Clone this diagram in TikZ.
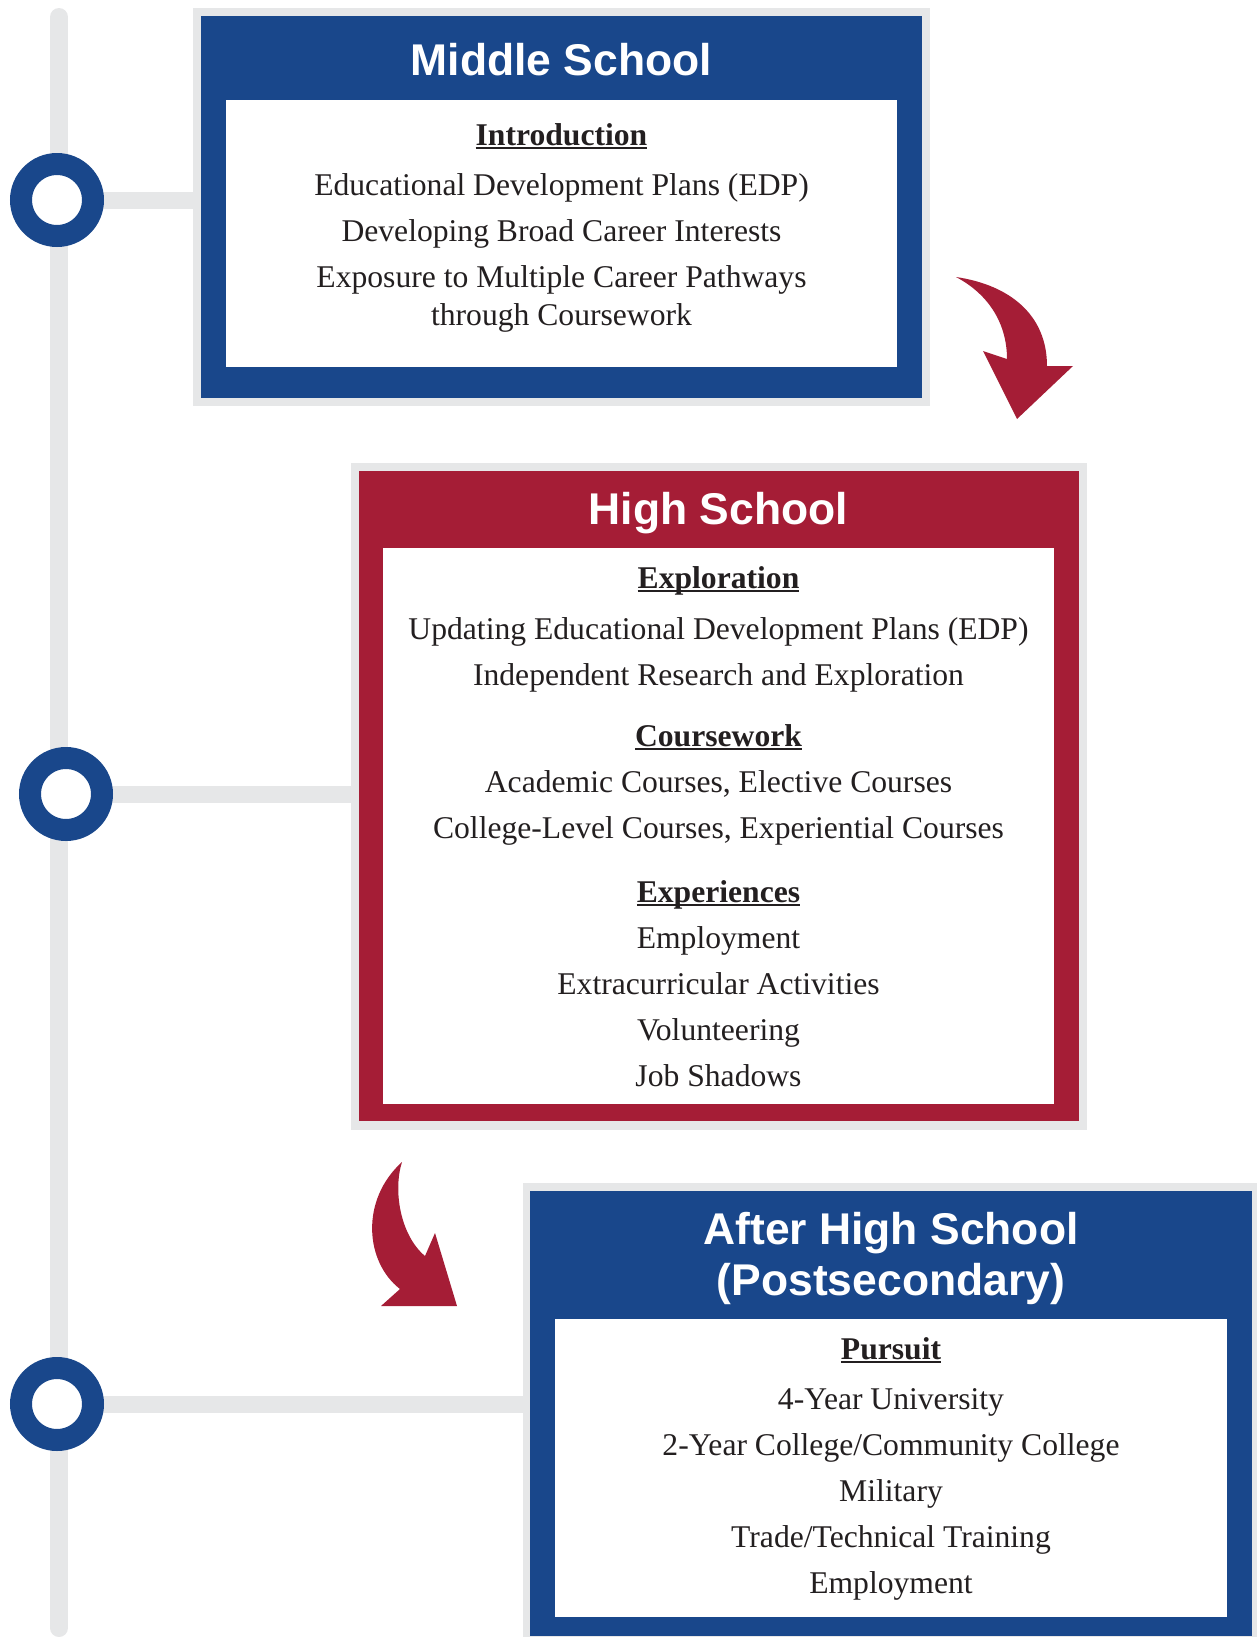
\documentclass[tikz,border=0pt]{standalone}
\usepackage{fontspec}
\setmainfont{Liberation Serif}
\newfontfamily\headfont{Liberation Sans}

\definecolor{navy}{HTML}{19478B}
\definecolor{crimson}{HTML}{A51D36}
\definecolor{track}{HTML}{E6E7E8}
\definecolor{ink}{HTML}{231F20}

% thick underline for the section headings
\newcommand\hdline[1]{\setbox0\hbox{#1}\rlap{\rule[-2.4pt]{\wd0}{1.1pt}}\box0}

\tikzset{
    stagetitle/.style={text=white, anchor=base, inner sep=0pt,
        font=\headfont\bfseries\fontsize{25.3}{28}\selectfont},
    entry/.style={text=ink, anchor=base, inner sep=0pt,
        font=\fontsize{18}{26}\selectfont},
    sectionhead/.style={entry, font=\bfseries\fontsize{18}{26}\selectfont},
    ring/.style={circle, draw=navy, line width=0.44cm, fill=white,
        minimum size=1.44cm, inner sep=0pt},
    link/.style={draw=track, line width=0.34cm},
}

\begin{document}
\begin{tikzpicture}[x=0.02cm, y=-0.02cm]
        \useasboundingbox (0,0) rectangle (1257,1637);

        % timeline
        \draw[track, line width=0.36cm, line cap=round] (59,17) -- (59,1628);
        \coordinate (p1) at (57,200);
        \coordinate (p2) at (66,794);
        \coordinate (p3) at (57,1404);
        \coordinate (ms) at (193,200);
        \coordinate (hs) at (351,794);
        \coordinate (ps) at (523,1404);
        \draw[link] (p1) -- (ms);
        \draw[link] (p2) -- (hs);
        \draw[link] (p3) -- (ps);
        \node[ring] (r1) at (p1) {};
        \node[ring] (r2) at (p2) {};
        \node[ring] (r3) at (p3) {};

        % Middle School
        \fill[track] (193,8) rectangle (930,406);
        \fill[navy] (201,16) rectangle (922,398);
        \fill[white] (226,100) rectangle (897,367);
        \node[stagetitle] (ms-title) at (561.5,75) {Middle School};
        \node[sectionhead] (ms-head) at (561.5,145) {\hdline{Introduction}};
        \node[entry] (ms-1) at (561.5,195) {Educational Development Plans (EDP)};
        \node[entry] (ms-2) at (561.5,241) {Developing Broad Career Interests};
        \node[entry] (ms-3) at (561.5,287) {Exposure to Multiple Career Pathways};
        \node[entry] (ms-4) at (561.5,325) {through Coursework};

        % High School
        \fill[track] (351,463) rectangle (1087,1130);
        \fill[crimson] (359,471) rectangle (1079,1121);
        \fill[white] (383,548) rectangle (1054,1104);
        \node[stagetitle] (hs-title) at (718.5,524) {High School};
        \node[sectionhead] (hs-head1) at (718.5,588) {\hdline{Exploration}};
        \foreach \txt [count=\i] in {Updating Educational Development Plans (EDP),
                Independent Research and Exploration}
            \node[entry] (hs-a\i) at (718.5,593+46*\i) {\txt};
        \node[sectionhead] (hs-head2) at (718.5,746) {\hdline{Coursework}};
        \foreach \txt [count=\i] in {{Academic Courses, Elective Courses},
                {College-Level Courses, Experiential Courses}}
            \node[entry] (hs-b\i) at (718.5,746+46*\i) {\txt};
        \node[sectionhead] (hs-head3) at (718.5,902) {\hdline{Experiences}};
        \foreach \txt [count=\i] in {Employment, Extracurricular Activities,
                Volunteering, Job Shadows}
            \node[entry] (hs-c\i) at (718.5,902+46*\i) {\txt};

        % After High School
        \fill[track] (523,1183) rectangle (1257,1637);
        \fill[navy] (530,1191) rectangle (1252,1636);
        \fill[white] (555,1319) rectangle (1227,1617);
        \node[stagetitle] (ps-title1) at (891,1244) {After High School};
        \node[stagetitle] (ps-title2) at (891,1295) {(Postsecondary)};
        \node[sectionhead] (ps-head) at (891,1359) {\hdline{Pursuit}};
        \foreach \txt [count=\i] in {4-Year University,
                2-Year College/Community College, Military,
                Trade/Technical Training, Employment}
            \node[entry] (ps-\i) at (891,1363+46*\i) {\txt};

        % curved arrows
        \fill[crimson] (956,277) .. controls (1010,285) and (1047,315) .. (1047,366)
            -- (1073,366) -- (1017,419) -- (983,351) -- (1007,359)
            .. controls (1007,325) and (990,295) .. (956,277) -- cycle;
        \fill[crimson] (402,1162) .. controls (360,1200) and (365,1262) .. (400,1289)
            -- (381,1306) -- (457,1306) -- (435,1233) -- (425,1256)
            .. controls (400,1235) and (393,1190) .. (402,1162) -- cycle;
    \end{tikzpicture}
\end{document}
